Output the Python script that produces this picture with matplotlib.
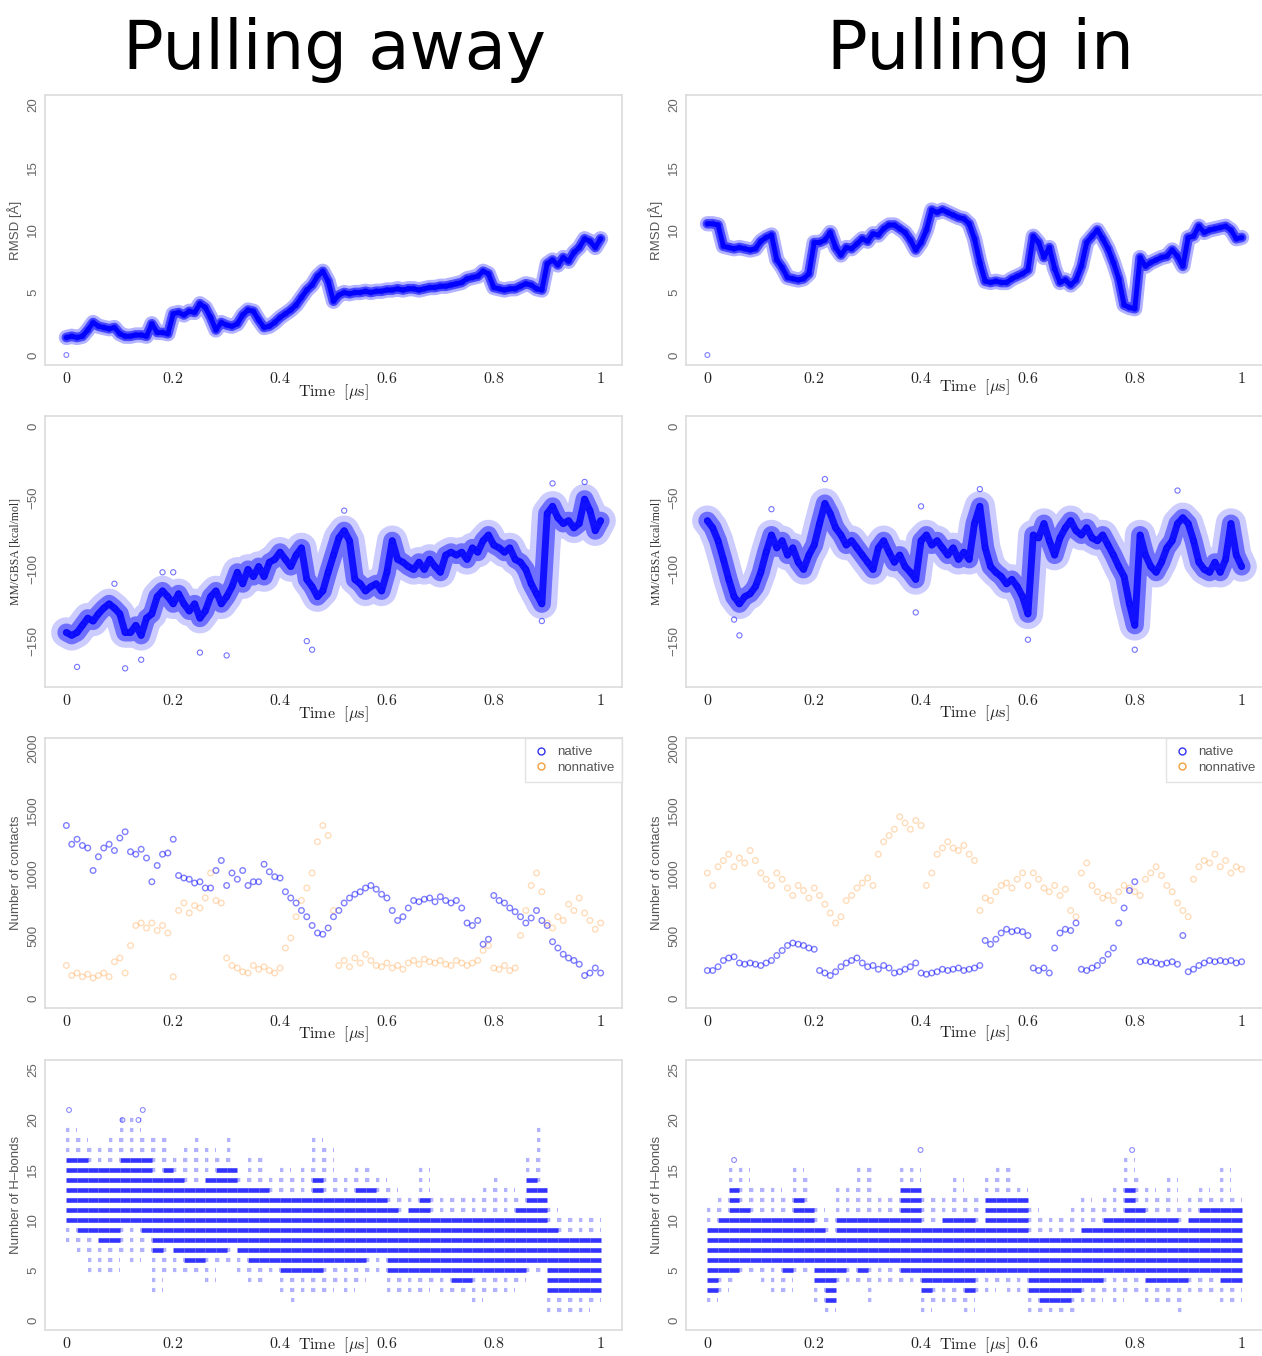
import numpy as np
import matplotlib
matplotlib.use('Agg')
import matplotlib.pyplot as plt
from matplotlib.lines import Line2D

plt.rcParams['mathtext.fontset'] = 'cm'
plt.rcParams['font.family'] = ['Liberation Sans', 'DejaVu Sans']

# ---------------- data ----------------
time_grid = [round(i * 0.01, 2) for i in range(101)]          # 0 .. 1 us
hb_bins = [round(i * 0.02, 2) for i in range(50)]              # H-bond bins
hb_bin_width = 0.02

rmsd_first_frame = 0.0
rmsd_away = [1.4, 1.5, 1.4, 1.5, 2.0, 2.6, 2.3, 2.2, 2.1, 2.2,
             1.7, 1.5, 1.5, 1.6, 1.6, 1.5, 2.5, 1.8, 1.8, 1.7,
             3.3, 3.4, 3.2, 3.5, 3.4, 4.1, 3.8, 3.0, 2.0, 2.6,
             2.4, 2.3, 2.5, 3.2, 3.6, 3.5, 2.8, 2.2, 2.3, 2.6,
             3.0, 3.3, 3.6, 4.0, 4.6, 5.2, 5.6, 6.3, 6.7, 5.9,
             4.3, 4.8, 5.0, 4.9, 5.0, 5.0, 5.1, 5.0, 5.1, 5.1,
             5.2, 5.2, 5.3, 5.2, 5.3, 5.3, 5.2, 5.3, 5.4, 5.4,
             5.5, 5.5, 5.6, 5.7, 5.8, 6.1, 6.2, 6.3, 6.7, 6.5,
             5.4, 5.3, 5.2, 5.3, 5.3, 5.5, 5.7, 5.6, 5.3, 5.2,
             7.3, 7.6, 7.2, 7.8, 7.5, 8.2, 8.6, 9.3, 9.1, 8.6, 9.3]
rmsd_in = [10.5, 10.5, 10.4, 8.7, 8.6, 8.5, 8.6, 8.5, 8.4, 8.5,
           9.1, 9.4, 9.6, 7.6, 7.0, 6.2, 6.1, 6.0, 6.1, 6.5,
           9.0, 9.0, 9.2, 9.8, 8.6, 8.0, 8.6, 8.5, 8.9, 9.3,
           9.1, 9.7, 9.6, 10.1, 10.4, 10.4, 10.1, 9.8, 9.2, 8.4,
           9.0, 10.0, 11.6, 11.4, 11.6, 11.4, 11.2, 11.0, 10.9, 10.5,
           9.3, 7.4, 5.9, 5.8, 5.9, 5.8, 5.8, 6.1, 6.3, 6.5,
           6.8, 9.5, 9.0, 7.8, 8.6, 6.9, 5.8, 6.0, 5.6, 6.0,
           7.1, 9.0, 9.5, 10.0, 9.3, 8.5, 7.4, 6.1, 4.0, 3.8,
           3.7, 7.8, 7.1, 7.4, 7.6, 7.8, 7.9, 8.4, 7.9, 7.1,
           9.4, 9.5, 10.3, 9.8, 10.0, 10.1, 10.2, 10.3, 10.0, 9.3, 9.4]

gbsa_away = [-144, -146, -144, -139, -134, -136, -131, -127, -124, -127,
             -131, -144, -144, -139, -146, -134, -131, -119, -115, -119,
             -124, -117, -124, -129, -124, -134, -129, -119, -115, -124,
             -119, -112, -102, -110, -100, -105, -98, -105, -95, -93,
             -88, -93, -98, -90, -85, -107, -112, -119, -115, -102,
             -90, -78, -73, -80, -107, -110, -115, -112, -110, -115,
             -102, -80, -93, -95, -98, -100, -95, -100, -93, -98,
             -102, -90, -88, -90, -88, -93, -85, -88, -80, -76,
             -83, -85, -88, -85, -93, -95, -100, -110, -117, -124,
             -61, -56, -64, -68, -66, -71, -68, -51, -59, -73, -66]
gbsa_in = [-66, -71, -80, -93, -107, -119, -124, -119, -117, -112,
           -102, -88, -76, -85, -80, -90, -85, -95, -100, -90,
           -83, -68, -54, -61, -71, -76, -83, -80, -85, -90,
           -95, -100, -85, -80, -88, -95, -90, -98, -102, -107,
           -80, -76, -83, -80, -85, -90, -85, -93, -88, -93,
           -68, -56, -85, -98, -102, -105, -110, -107, -112, -119,
           -131, -76, -78, -68, -80, -90, -78, -71, -66, -73,
           -76, -71, -78, -80, -76, -83, -90, -98, -105, -124,
           -139, -76, -90, -98, -102, -95, -85, -80, -68, -64,
           -68, -80, -95, -100, -102, -95, -102, -93, -68, -90, -98]
gbsa_away_extreme_t = [0.02, 0.11, 0.14, 0.25, 0.30, 0.45, 0.46, 0.89, 0.91, 0.97, 0.52, 0.09, 0.18, 0.20]
gbsa_away_extreme_v = [-168, -169, -163, -158, -160, -150, -156, -136, -40, -39, -59, -110, -102, -102]
gbsa_in_extreme_t = [0.06, 0.22, 0.51, 0.60, 0.80, 0.39, 0.88, 0.12, 0.40, 0.05]
gbsa_in_extreme_v = [-146, -37, -44, -149, -156, -130, -45, -58, -56, -135]

native_away = [1380, 1230, 1270, 1220, 1200, 1020, 1130, 1200, 1230, 1180,
               1280, 1330, 1170, 1150, 1190, 1120, 930, 1060, 1150, 1160,
               1270, 980, 960, 950, 920, 930, 880, 880, 1020, 1100,
               900, 1000, 950, 1020, 900, 930, 930, 1070, 1010, 970,
               960, 850, 800, 760, 700, 650, 580, 520, 510, 560,
               650, 700, 760, 800, 830, 850, 880, 900, 870, 830,
               800, 700, 620, 650, 720, 780, 770, 790, 800, 770,
               810, 780, 760, 780, 720, 600, 580, 620, 430, 470,
               820, 780, 760, 720, 690, 650, 600, 640, 700, 620,
               580, 450, 400, 350, 320, 300, 270, 180, 200, 240, 200]
nonnative_away = [260, 180, 200, 170, 190, 160, 180, 200, 170, 290,
                  320, 200, 420, 580, 600, 560, 600, 540, 580, 520,
                  170, 700, 760, 680, 740, 720, 800, 1000, 780, 760,
                  320, 260, 240, 210, 200, 260, 230, 250, 220, 200,
                  240, 400, 480, 650, 780, 880, 1000, 1250, 1380, 1300,
                  700, 260, 300, 250, 320, 280, 350, 300, 260, 250,
                  280, 240, 260, 230, 280, 300, 270, 310, 290, 280,
                  300, 270, 260, 300, 280, 260, 280, 300, 380, 420,
                  240, 230, 260, 220, 240, 500, 700, 900, 1000, 850,
                  600, 560, 650, 620, 750, 700, 800, 680, 620, 550, 600]
native_in = [220, 220, 250, 300, 320, 330, 280, 270, 280, 270,
             260, 280, 300, 340, 380, 420, 440, 430, 420, 400,
             390, 220, 200, 180, 210, 250, 280, 300, 320, 280,
             250, 260, 230, 260, 240, 200, 210, 230, 250, 280,
             200, 190, 200, 210, 230, 220, 230, 240, 220, 230,
             240, 260, 460, 430, 470, 520, 550, 530, 540, 530,
             500, 240, 220, 240, 200, 400, 520, 550, 540, 600,
             230, 220, 240, 260, 300, 350, 400, 600, 720, 860,
             930, 290, 300, 290, 280, 270, 280, 290, 270, 500,
             210, 230, 260, 280, 300, 290, 300, 290, 300, 280, 290]
nonnative_in = [1000, 900, 1050, 1100, 1150, 1050, 1120, 1080, 1180, 1100,
                1000, 950, 900, 1000, 950, 880, 820, 900, 860, 800,
                880, 820, 750, 680, 600, 650, 780, 820, 880, 920,
                960, 900, 1150, 1250, 1300, 1350, 1450, 1400, 1350, 1420,
                1380, 900, 1000, 1150, 1200, 1250, 1200, 1180, 1220, 1150,
                1100, 700, 800, 780, 850, 900, 920, 880, 950, 1000,
                900, 1000, 950, 880, 850, 900, 820, 870, 700, 650,
                1000, 1080, 900, 850, 800, 820, 780, 850, 900, 880,
                850, 820, 950, 1000, 1050, 980, 900, 850, 760, 700,
                650, 950, 1050, 1100, 1080, 1150, 1050, 1100, 1000, 1050, 1030]

hb_away_sparse_lo = [8, 7, 5, 5, 5, 7, 6, 7, 3, 5, 5, 5, 5, 4, 6, 6, 5, 4, 4, 5,
                     3, 2, 3, 3, 3, 4, 3, 4, 5, 5, 3, 3, 3, 3, 4, 3, 3, 3, 2, 3,
                     3, 3, 4, 5, 5, 1, 1, 1, 1, 2]
hb_away_dense_lo = [10, 9, 9, 8, 8, 10, 10, 9, 7, 8, 7, 6, 6, 7, 7, 8, 7, 6, 6, 6,
                    5, 5, 5, 5, 6, 6, 6, 6, 7, 7, 5, 5, 5, 5, 5, 5, 4, 4, 5, 5,
                    5, 5, 5, 6, 6, 3, 3, 3, 3, 3]
hb_away_dense_hi = [16, 16, 15, 15, 15, 16, 16, 16, 14, 15, 14, 13, 13, 14, 15, 15, 13, 13, 13, 12,
                    12, 12, 12, 14, 12, 12, 12, 13, 13, 12, 11, 10, 11, 12, 10, 10, 10, 10, 10, 10,
                    10, 10, 11, 14, 13, 9, 8, 8, 8, 8]
hb_away_sparse_hi = [19, 18, 17, 17, 18, 20, 20, 18, 18, 18, 16, 17, 18, 17, 16, 18, 14, 16, 16, 14,
                     15, 14, 15, 18, 17, 14, 14, 15, 15, 14, 13, 12, 12, 15, 12, 12, 12, 12, 12, 13,
                     14, 13, 12, 16, 19, 11, 10, 10, 10, 10]
hb_away_outlier_t = [0.005, 0.143, 0.105, 0.135]
hb_away_outlier_v = [21, 21, 20, 20]

hb_in_sparse_lo = [2, 3, 4, 5, 5, 4, 3, 3, 5, 5, 2, 1, 4, 4, 4, 2, 4, 4, 4, 4,
                   1, 2, 2, 2, 1, 3, 3, 4, 3, 3, 1, 1, 1, 1, 1, 2, 2, 3, 2, 3,
                   3, 2, 2, 2, 1, 3, 3, 3, 2, 2]
hb_in_dense_lo = [3, 5, 5, 6, 6, 6, 6, 5, 6, 6, 4, 2, 5, 6, 5, 6, 6, 6, 5, 5,
                  3, 4, 4, 4, 3, 5, 5, 5, 5, 5, 3, 2, 2, 2, 3, 4, 4, 5, 5, 5,
                  5, 4, 4, 4, 4, 5, 5, 5, 4, 4]
hb_in_dense_hi = [9, 10, 13, 11, 10, 10, 10, 10, 12, 11, 9, 8, 10, 10, 10, 10, 10, 10, 13, 13,
                  9, 9, 10, 10, 10, 9, 12, 12, 12, 12, 8, 8, 8, 8, 8, 9, 9, 10, 10, 13,
                  11, 10, 10, 10, 9, 10, 11, 11, 11, 11]
hb_in_sparse_hi = [11, 12, 15, 15, 13, 13, 13, 12, 15, 14, 11, 10, 13, 13, 15, 15, 12, 12, 15, 15,
                   12, 12, 12, 14, 12, 12, 14, 15, 15, 13, 11, 10, 10, 10, 11, 12, 11, 12, 13, 16,
                   14, 13, 12, 14, 11, 12, 13, 12, 15, 12]
hb_in_outlier_t = [0.05, 0.399, 0.795]
hb_in_outlier_v = [16, 17, 17]

titles = ['Pulling away', 'Pulling in']
xtick_vals = [0, 0.2, 0.4, 0.6, 0.8, 1]
xtick_labels = ['$0$', '$0.2$', '$0.4$', '$0.6$', '$0.8$', '$1$']

# ---------------- style ----------------
BLUE = '#0000ff'
ORANGE = '#ff8c1a'
FRAME = '#dcdcdc'
TICKCOL = '#666666'

W, H = 1262, 1356
fig = plt.figure(figsize=(W / 100, H / 100), dpi=100)

col_left = [45, 686]
ax_w = 577
rows = [(95, 365), (416, 687), (738, 1008), (1060, 1330)]
xlabel_pad = [[-2, -6], [-2, -3], [-3, -4], [-11, -11]]


def make_ax(col, row):
    x0 = col_left[col] / W
    top, bot = rows[row]
    ax = fig.add_axes([x0, 1 - bot / H, ax_w / W, (bot - top) / H])
    for s in ax.spines.values():
        s.set_color(FRAME)
        s.set_linewidth(1.2)
    ax.set_xlim(-0.04, 1.04)
    ax.set_xticks(xtick_vals)
    ax.set_xticklabels(xtick_labels, fontsize=11.5, color='#222222')
    ax.tick_params(length=0, pad=4)
    ax.set_xlabel(r'$\mathrm{Time}\ \ [\mu\mathrm{s}]$', fontsize=11.5,
                  color='#222222', labelpad=xlabel_pad[row][col])
    return ax


def set_y(ax, ticks, labels, ylim, ylabel, yl_kw=None):
    ax.set_ylim(*ylim)
    ax.set_yticks(ticks)
    ax.set_yticklabels(labels, rotation=90, va='center', fontsize=9.5,
                       color=TICKCOL)
    kw = dict(fontsize=9.5, color='#555555')
    if yl_kw:
        kw.update(yl_kw)
    ax.set_ylabel(ylabel, labelpad=4, **kw)


def ribbon(ax, t, v, widths, alphas, msize):
    for lw, a in zip(widths, alphas):
        ax.plot(t, v, color=BLUE, lw=lw, alpha=a,
                solid_joinstyle='round', solid_capstyle='round', zorder=2)
    ax.scatter(t, v, s=msize, facecolors='none', edgecolors=BLUE,
               linewidths=0.8, alpha=0.5, zorder=4)


def hbonds(ax, slo, dlo, dhi, shi, out_t, out_v):
    dy, dx0, dx1, sy, sx0, sx1 = [], [], [], [], [], []
    for i, t0 in enumerate(hb_bins):
        for k in range(slo[i], shi[i] + 1):
            if dlo[i] <= k <= dhi[i]:
                dy.append(k); dx0.append(t0); dx1.append(t0 + hb_bin_width)
            else:
                sy.append(k); sx0.append(t0); sx1.append(t0 + hb_bin_width)
    ax.hlines(sy, sx0, sx1, colors=BLUE, linewidth=3.0, alpha=0.3,
              linestyles=[(0, (0.8, 1.6))])
    ax.hlines(dy, dx0, dx1, colors=BLUE, linewidth=3.3, alpha=0.8)
    ax.scatter(out_t, out_v, s=12, facecolors='none', edgecolors=BLUE,
               linewidths=0.8, alpha=0.45)


gbsa_ticks = [0, -50, -100, -150]
gbsa_labels = ['0', '\u221250', '\u2212100', '\u2212150']

for col in range(2):
    # Row 1: RMSD
    ax = make_ax(col, 0)
    series = rmsd_away if col == 0 else rmsd_in
    ribbon(ax, time_grid, series, [11, 7, 3.5], [0.3, 0.6, 0.95], 14)
    ax.scatter([0], [rmsd_first_frame], s=12, facecolors='none',
               edgecolors=BLUE, linewidths=0.8, alpha=0.5)
    set_y(ax, [0, 5, 10, 15, 20], ['0', '5', '10', '15', '20'], (-0.8, 20.8),
          'RMSD [\u00c5]')

    # Row 2: MM/GBSA
    ax = make_ax(col, 1)
    series = gbsa_away if col == 0 else gbsa_in
    ribbon(ax, time_grid, series, [22, 13, 5], [0.2, 0.45, 0.85], 16)
    et = gbsa_away_extreme_t if col == 0 else gbsa_in_extreme_t
    ev = gbsa_away_extreme_v if col == 0 else gbsa_in_extreme_v
    ax.scatter(et, ev, s=14, facecolors='none', edgecolors=BLUE,
               linewidths=0.8, alpha=0.55)
    set_y(ax, gbsa_ticks, gbsa_labels, (-182, 7), 'MM/GBSA [kcal/mol]',
          dict(family=['Liberation Serif', 'DejaVu Serif'], fontsize=8.5,
               color='#333333'))

    # Row 3: contacts
    ax = make_ax(col, 2)
    nat = native_away if col == 0 else native_in
    non = nonnative_away if col == 0 else nonnative_in
    ax.scatter(time_grid, non, s=16, facecolors='none', edgecolors=ORANGE,
               linewidths=1.0, alpha=0.3, zorder=2)
    ax.scatter(time_grid, nat, s=16, facecolors='none', edgecolors=BLUE,
               linewidths=1.0, alpha=0.5, zorder=3)
    set_y(ax, [0, 500, 1000, 1500, 2000], ['0', '500', '1000', '1500', '2000'],
          (-80, 2080), 'Number of contacts')
    handles = [Line2D([], [], marker='o', ls='none', mfc='none', mec='#3333ee',
                      ms=5, mew=1.0, label='native'),
               Line2D([], [], marker='o', ls='none', mfc='none', mec='#f0a040',
                      ms=5, mew=1.0, label='nonnative')]
    leg = ax.legend(handles=handles, loc='upper right', borderaxespad=0,
                    fancybox=False, fontsize=9.5, handletextpad=0.6,
                    borderpad=0.6, labelspacing=0.25, handlelength=1.2,
                    labelcolor='#555555')
    leg.get_frame().set_edgecolor(FRAME)
    leg.get_frame().set_linewidth(1.0)

    # Row 4: H-bonds
    ax = make_ax(col, 3)
    if col == 0:
        hbonds(ax, hb_away_sparse_lo, hb_away_dense_lo, hb_away_dense_hi,
               hb_away_sparse_hi, hb_away_outlier_t, hb_away_outlier_v)
    else:
        hbonds(ax, hb_in_sparse_lo, hb_in_dense_lo, hb_in_dense_hi,
               hb_in_sparse_hi, hb_in_outlier_t, hb_in_outlier_v)
    set_y(ax, [0, 5, 10, 15, 20, 25], ['0', '5', '10', '15', '20', '25'],
          (-1, 26), 'Number of H\u2013bonds')

# Column titles
fig.text(334 / W, 1 - 69 / H, titles[0], ha='center', va='baseline',
         fontsize=48.5, family='DejaVu Sans', color='black')
fig.text(980 / W, 1 - 69 / H, titles[1], ha='center', va='baseline',
         fontsize=48.5, family='DejaVu Sans', color='black')

fig.savefig('out.png', dpi=100, facecolor='white')
